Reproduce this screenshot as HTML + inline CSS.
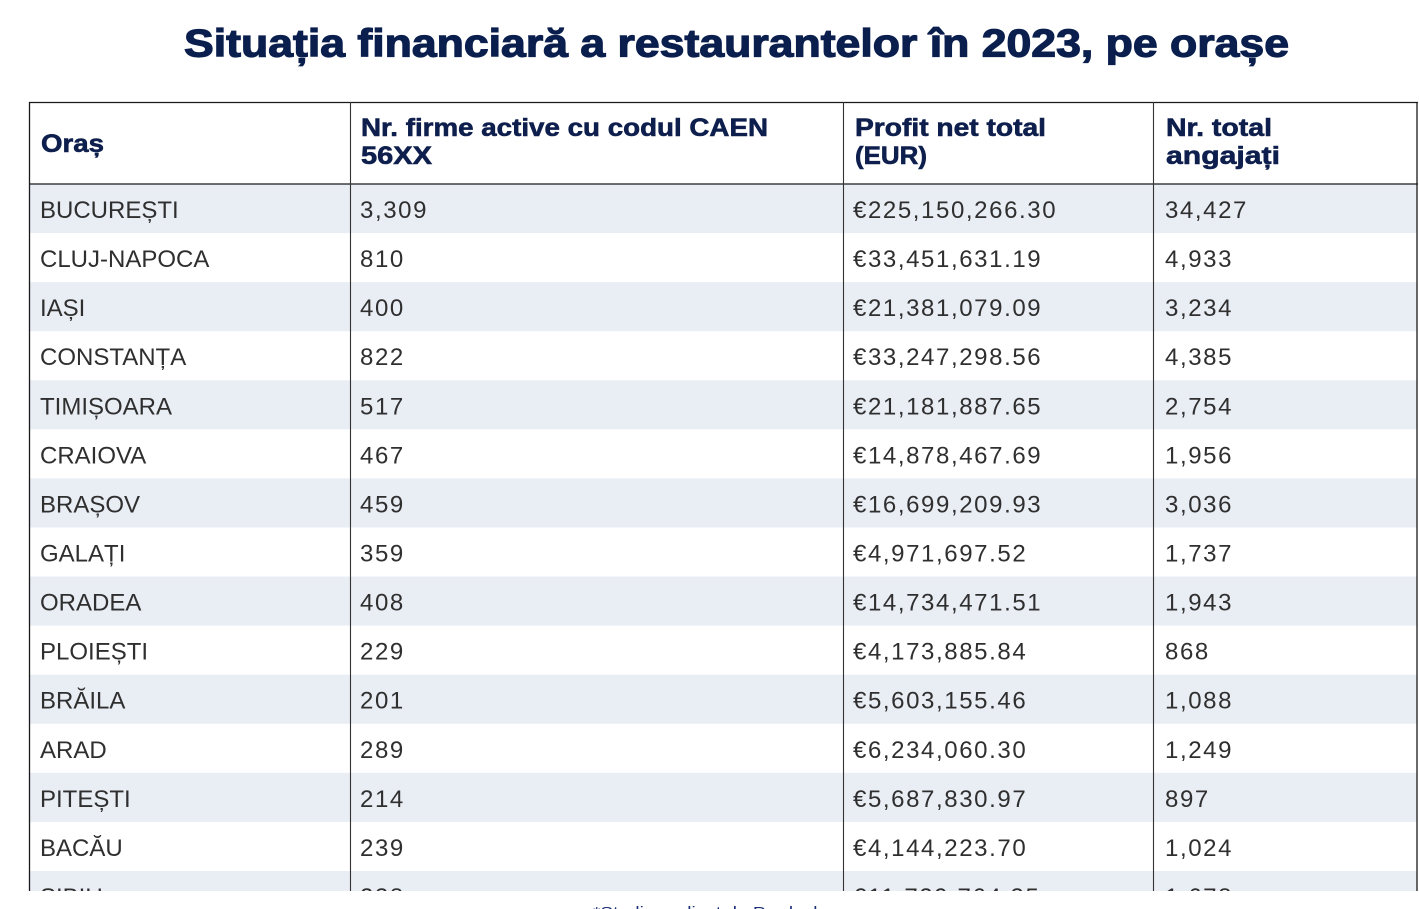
<!DOCTYPE html>
<html>
<head>
<meta charset="utf-8">
<style>
  html, body { margin: 0; padding: 0; background: #ffffff; }
  body { width: 1419px; height: 909px; overflow: hidden; }
  svg { display: block; }
  .title { font-family: "Liberation Sans", sans-serif; font-weight: bold; font-size: 39px; fill: #0b1f4e; stroke: #0b1f4e; stroke-width: 1.2px; }
  .hd { font-family: "Liberation Sans", sans-serif; font-weight: bold; font-size: 25px; fill: #0e1f4d; stroke: #0e1f4d; stroke-width: 0.6px; }
  .c { font-family: "Liberation Sans", sans-serif; font-size: 24px; fill: #2f2f2f; }
  .n { font-family: "Liberation Sans", sans-serif; font-size: 24px; fill: #2f2f2f; letter-spacing: 1.6px; }
  .ft { font-family: "Liberation Sans", sans-serif; font-size: 15px; fill: #1a2f7a; }
</style>
</head>
<body>
<svg width="1419" height="909" viewBox="0 0 1419 909" xmlns="http://www.w3.org/2000/svg">
  <rect x="0" y="0" width="1419" height="909" fill="#ffffff"/>
  <text class="title" x="184" y="56.5" textLength="1105" lengthAdjust="spacingAndGlyphs">Situația financiară a restaurantelor în 2023, pe orașe</text>

  <defs>
    <clipPath id="tbl"><rect x="0" y="0" width="1419" height="891"/></clipPath>
  </defs>

  <g clip-path="url(#tbl)">
    <!-- stripes -->
    <rect x="29.5" y="184" width="1388" height="49.07" fill="#e9edf4"/>
    <rect x="29.5" y="282.14" width="1388" height="49.07" fill="#e9edf4"/>
    <rect x="29.5" y="380.28" width="1388" height="49.07" fill="#e9edf4"/>
    <rect x="29.5" y="478.42" width="1388" height="49.07" fill="#e9edf4"/>
    <rect x="29.5" y="576.56" width="1388" height="49.07" fill="#e9edf4"/>
    <rect x="29.5" y="674.7" width="1388" height="49.07" fill="#e9edf4"/>
    <rect x="29.5" y="772.84" width="1388" height="49.07" fill="#e9edf4"/>
    <rect x="29.5" y="870.98" width="1388" height="49.07" fill="#e9edf4"/>

    <!-- header -->
    <text class="hd" x="41" y="152" textLength="63" lengthAdjust="spacingAndGlyphs">Oraș</text>
    <text class="hd" x="361" y="136" textLength="407" lengthAdjust="spacingAndGlyphs">Nr. firme active cu codul CAEN</text>
    <text class="hd" x="361" y="164" textLength="71" lengthAdjust="spacingAndGlyphs">56XX</text>
    <text class="hd" x="855" y="136" textLength="191" lengthAdjust="spacingAndGlyphs">Profit net total</text>
    <text class="hd" x="855" y="164" textLength="72" lengthAdjust="spacingAndGlyphs">(EUR)</text>
    <text class="hd" x="1166" y="136" textLength="106" lengthAdjust="spacingAndGlyphs">Nr. total</text>
    <text class="hd" x="1166" y="164" textLength="114" lengthAdjust="spacingAndGlyphs">angajați</text>

    <!-- rows: baseline = 218 + 49.07*i -->
    <g>
      <text class="c" x="40" y="218">BUCUREȘTI</text>
      <text class="n" x="360" y="218">3,309</text>
      <text class="n" x="853" y="218">€225,150,266.30</text>
      <text class="n" x="1165" y="218">34,427</text>

      <text class="c" x="40" y="267.07">CLUJ-NAPOCA</text>
      <text class="n" x="360" y="267.07">810</text>
      <text class="n" x="853" y="267.07">€33,451,631.19</text>
      <text class="n" x="1165" y="267.07">4,933</text>

      <text class="c" x="40" y="316.14">IAȘI</text>
      <text class="n" x="360" y="316.14">400</text>
      <text class="n" x="853" y="316.14">€21,381,079.09</text>
      <text class="n" x="1165" y="316.14">3,234</text>

      <text class="c" x="40" y="365.21">CONSTANȚA</text>
      <text class="n" x="360" y="365.21">822</text>
      <text class="n" x="853" y="365.21">€33,247,298.56</text>
      <text class="n" x="1165" y="365.21">4,385</text>

      <text class="c" x="40" y="414.28">TIMIȘOARA</text>
      <text class="n" x="360" y="414.28">517</text>
      <text class="n" x="853" y="414.28">€21,181,887.65</text>
      <text class="n" x="1165" y="414.28">2,754</text>

      <text class="c" x="40" y="463.35">CRAIOVA</text>
      <text class="n" x="360" y="463.35">467</text>
      <text class="n" x="853" y="463.35">€14,878,467.69</text>
      <text class="n" x="1165" y="463.35">1,956</text>

      <text class="c" x="40" y="512.42">BRAȘOV</text>
      <text class="n" x="360" y="512.42">459</text>
      <text class="n" x="853" y="512.42">€16,699,209.93</text>
      <text class="n" x="1165" y="512.42">3,036</text>

      <text class="c" x="40" y="561.49">GALAȚI</text>
      <text class="n" x="360" y="561.49">359</text>
      <text class="n" x="853" y="561.49">€4,971,697.52</text>
      <text class="n" x="1165" y="561.49">1,737</text>

      <text class="c" x="40" y="610.56">ORADEA</text>
      <text class="n" x="360" y="610.56">408</text>
      <text class="n" x="853" y="610.56">€14,734,471.51</text>
      <text class="n" x="1165" y="610.56">1,943</text>

      <text class="c" x="40" y="659.63">PLOIEȘTI</text>
      <text class="n" x="360" y="659.63">229</text>
      <text class="n" x="853" y="659.63">€4,173,885.84</text>
      <text class="n" x="1165" y="659.63">868</text>

      <text class="c" x="40" y="708.7">BRĂILA</text>
      <text class="n" x="360" y="708.7">201</text>
      <text class="n" x="853" y="708.7">€5,603,155.46</text>
      <text class="n" x="1165" y="708.7">1,088</text>

      <text class="c" x="40" y="757.77">ARAD</text>
      <text class="n" x="360" y="757.77">289</text>
      <text class="n" x="853" y="757.77">€6,234,060.30</text>
      <text class="n" x="1165" y="757.77">1,249</text>

      <text class="c" x="40" y="806.84">PITEȘTI</text>
      <text class="n" x="360" y="806.84">214</text>
      <text class="n" x="853" y="806.84">€5,687,830.97</text>
      <text class="n" x="1165" y="806.84">897</text>

      <text class="c" x="40" y="855.91">BACĂU</text>
      <text class="n" x="360" y="855.91">239</text>
      <text class="n" x="853" y="855.91">€4,144,223.70</text>
      <text class="n" x="1165" y="855.91">1,024</text>

      <text class="c" x="40" y="904.98">SIBIU</text>
      <text class="n" x="360" y="904.98">238</text>
      <text class="n" x="853" y="904.98">€11,729,764.35</text>
      <text class="n" x="1165" y="904.98">1,678</text>
    </g>

    <!-- grid lines -->
    <line x1="29" y1="102.5" x2="1418" y2="102.5" stroke="#1a1a1a" stroke-width="1.3"/>
    <line x1="29" y1="184" x2="1418" y2="184" stroke="#1a1a1a" stroke-width="1.3"/>
    <line x1="29.5" y1="102" x2="29.5" y2="909" stroke="#1a1a1a" stroke-width="1.3"/>
    <line x1="350.5" y1="102" x2="350.5" y2="909" stroke="#333333" stroke-width="1.1"/>
    <line x1="843.5" y1="102" x2="843.5" y2="909" stroke="#333333" stroke-width="1.1"/>
    <line x1="1153.5" y1="102" x2="1153.5" y2="909" stroke="#333333" stroke-width="1.1"/>
    <line x1="1417" y1="102" x2="1417" y2="909" stroke="#1a1a1a" stroke-width="1.3"/>
  </g>

  <text class="ft" x="593" y="917" textLength="252" lengthAdjust="spacingAndGlyphs">*Studiu realizat de Prodeck.ro</text>
</svg>
</body>
</html>
